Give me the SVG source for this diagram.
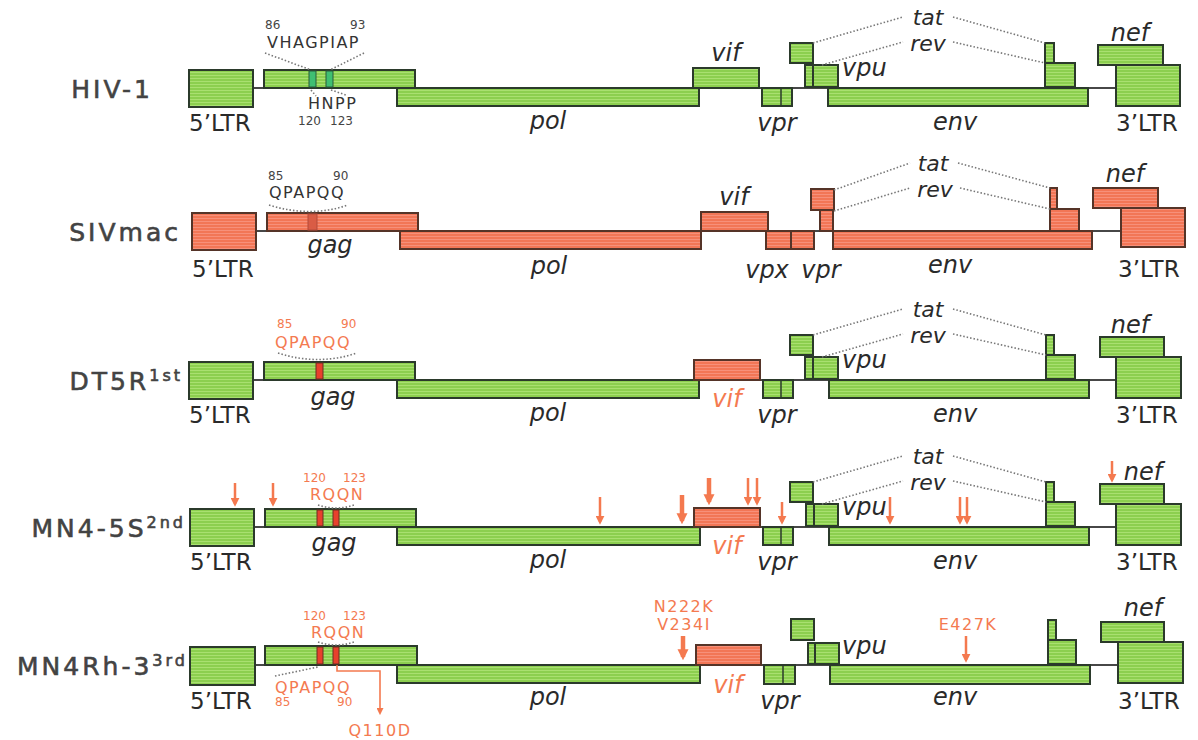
<svg xmlns="http://www.w3.org/2000/svg" width="1198" height="740" viewBox="0 0 1198 740">
<defs>
  <pattern id="pg" width="6" height="3" patternUnits="userSpaceOnUse">
    <rect width="6" height="3" fill="#8ccf4f"/>
    <rect y="2" width="6" height="1" fill="#a9e070"/>
  </pattern>
  <pattern id="pr" width="6" height="3" patternUnits="userSpaceOnUse">
    <rect width="6" height="3" fill="#f27656"/>
    <rect y="2" width="6" height="1" fill="#f7907a"/>
  </pattern>
  <marker id="ah" viewBox="0 0 10 10" refX="7" refY="5" markerWidth="9" markerHeight="9" orient="auto" markerUnits="userSpaceOnUse">
    <path d="M0,0 L10,5 L0,10 z" fill="#f4794f"/>
  </marker>
  <marker id="ahT" viewBox="0 0 10 10" refX="7" refY="5" markerWidth="11" markerHeight="12" orient="auto" markerUnits="userSpaceOnUse">
    <path d="M0,0 L10,5 L0,10 z" fill="#f4794f"/>
  </marker>
  <marker id="ahS" viewBox="0 0 10 10" refX="7" refY="5" markerWidth="7" markerHeight="7" orient="auto" markerUnits="userSpaceOnUse">
    <path d="M0,0 L10,5 L0,10 z" fill="#f4794f"/>
  </marker>
</defs>
<style>
  .g{fill:url(#pg);stroke:#2b3a2b;stroke-width:2}
  .r{fill:url(#pr);stroke:#553428;stroke-width:2}
  .bb{stroke:#474747;stroke-width:2}
  .dv{stroke:#2b3a2b;stroke-width:1.5}
  .stg{fill:#3fbf72;stroke:#2b5a3a;stroke-width:1}
  .str{fill:#e8402c;stroke:#6a2e22;stroke-width:1}
  .str2{fill:#d95c45;stroke:#b34a3a;stroke-width:1}
  .gl{font-family:"DejaVu Sans",Verdana,sans-serif;font-style:italic;font-size:24px;fill:#2a2a2a}
  .tr{font-size:22px}
  .ltr{font-family:"DejaVu Sans",Verdana,sans-serif;font-size:23px;fill:#2a2a2a}
  .rl{font-family:"DejaVu Sans",Verdana,sans-serif;font-size:25px;fill:#434343;stroke:#434343;stroke-width:0.6;letter-spacing:3px;text-anchor:end}
  .aa{font-family:"DejaVu Sans",Verdana,sans-serif;font-size:16px;fill:#333;letter-spacing:1.5px}
  .num{font-family:"DejaVu Sans",Verdana,sans-serif;font-size:12px;fill:#444}
  .o{fill:#f47a50}
  .c{text-anchor:middle}
  .dot{stroke:#777;stroke-width:1.6;stroke-dasharray:1.5 2;fill:none}
  .arr{stroke:#f4794f;stroke-width:2.5;marker-end:url(#ah)}
  .arrT{stroke:#f4794f;stroke-width:4.5;marker-end:url(#ahT)}
  .arrS{stroke:#f4794f;stroke-width:1.6;fill:none;marker-end:url(#ahS)}
</style>
<rect width="1198" height="740" fill="#ffffff"/>

<!-- Row labels -->
<g id="labels">
  <text class="rl" x="153" y="98">HIV-1</text>
  <text class="rl" x="181" y="241">SIVmac</text>
  <text class="rl" x="183" y="390">DT5R<tspan font-size="16" dy="-9">1st</tspan></text>
  <text class="rl" x="186" y="537">MN4-5S<tspan font-size="16" dy="-9">2nd</tspan></text>
  <text class="rl" x="188" y="675">MN4Rh-3<tspan font-size="16" dy="-9">3rd</tspan></text>
</g>

<!-- Row 1: HIV-1 -->
<g id="row-hiv1" transform="translate(0,88)">
  <line class="bb" x1="253" y1="0" x2="1116" y2="0"/>
  <g id="hiv1-5ltr"><rect class="g" x="189" y="-18" width="64" height="37"/></g>
  <g id="hiv1-gag"><rect class="g" x="264" y="-18" width="151" height="18"/>
    <rect class="stg" x="309" y="-17" width="7" height="16"/><rect class="stg" x="326" y="-17" width="7" height="16"/></g>
  <g id="hiv1-pol"><rect class="g" x="397" y="0" width="302" height="18"/></g>
  <g id="hiv1-vif"><rect class="g" x="693" y="-20" width="66" height="20"/></g>
  <g id="hiv1-vpr"><rect class="g" x="762" y="0" width="30" height="18"/><line class="dv" x1="781" y1="0" x2="781" y2="18"/></g>
  <g id="hiv1-tat1"><rect class="g" x="790" y="-45" width="23" height="20"/></g>
  <g id="hiv1-vpu"><rect class="g" x="805" y="-23" width="8" height="22"/><rect class="g" x="813" y="-23" width="25" height="22"/></g>
  <g id="hiv1-env"><rect class="g" x="828" y="0" width="260" height="18"/></g>
  <g id="hiv1-tat2"><rect class="g" x="1045" y="-45" width="9" height="20"/></g>
  <g id="hiv1-rev2"><rect class="g" x="1045" y="-25" width="30" height="24"/></g>
  <g id="hiv1-nef"><rect class="g" x="1098" y="-43" width="65" height="20"/></g>
  <g id="hiv1-3ltr"><rect class="g" x="1116" y="-23" width="64" height="41"/></g>
  <text class="gl c" x="726" y="-27">vif</text>
  <text class="gl tr c" x="928" y="-63">tat</text>
  <text class="gl tr c" x="928" y="-37">rev</text>
  <text class="gl" x="842" y="-12">vpu</text>
  <text class="gl c" x="1130" y="-47">nef</text>
  <text class="ltr" x="189" y="43">5’LTR</text>
  <text class="gl c" x="548" y="41">pol</text>
  <text class="gl c" x="777" y="43">vpr</text>
  <text class="gl c" x="955" y="42">env</text>
  <text class="ltr" x="1116" y="43">3’LTR</text>
  <text class="num" x="265" y="-59">86</text>
  <text class="num" x="350" y="-59">93</text>
  <text class="aa" x="267" y="-40">VHAGPIAP</text>
  <text class="aa" x="308" y="21">HNPP</text>
  <text class="num" x="298" y="37">120</text>
  <text class="num" x="330" y="37">123</text>
</g>

<!-- Row 2: SIVmac -->
<g id="row-sivmac">
  <line class="bb" x1="256" y1="231" x2="1121" y2="231"/>
  <g id="siv-5ltr"><rect class="r" x="192" y="213" width="64" height="37"/></g>
  <g id="siv-gag"><rect class="r" x="267" y="213" width="151" height="18"/><rect class="str2" x="308" y="214" width="9" height="16"/></g>
  <g id="siv-pol"><rect class="r" x="400" y="231" width="301" height="18"/></g>
  <g id="siv-vif"><rect class="r" x="701" y="212" width="67" height="19"/></g>
  <g id="siv-vpx"><rect class="r" x="766" y="231" width="25" height="18"/></g>
  <g id="siv-vpr"><rect class="r" x="791" y="231" width="23" height="18"/></g>
  <g id="siv-tat1"><rect class="r" x="811" y="189" width="23" height="21"/></g>
  <g id="siv-rev1"><rect class="r" x="820" y="210" width="13" height="21"/></g>
  <g id="siv-env"><rect class="r" x="833" y="231" width="259" height="18"/></g>
  <g id="siv-tat2"><rect class="r" x="1050" y="188" width="7" height="21"/></g>
  <g id="siv-rev2"><rect class="r" x="1050" y="209" width="29" height="22"/></g>
  <g id="siv-nef"><rect class="r" x="1093" y="188" width="65" height="20"/></g>
  <g id="siv-3ltr"><rect class="r" x="1121" y="208" width="64" height="39"/></g>
  <text class="gl c" x="734" y="205">vif</text>
  <text class="gl tr c" x="933" y="171">tat</text>
  <text class="gl tr c" x="935" y="197">rev</text>
  <text class="gl c" x="1125" y="182">nef</text>
  <text class="gl c" x="330" y="253">gag</text>
  <text class="ltr" x="192" y="277">5’LTR</text>
  <text class="gl c" x="549" y="274">pol</text>
  <text class="gl c" x="767" y="278">vpx</text>
  <text class="gl c" x="821" y="278">vpr</text>
  <text class="gl c" x="950" y="273">env</text>
  <text class="ltr" x="1118" y="277">3’LTR</text>
  <text class="num" x="268" y="180">85</text>
  <text class="num" x="333" y="180">90</text>
  <text class="aa" x="269" y="198">QPAPQQ</text>
</g>

<!-- Row 3: DT5R 1st -->
<g id="row-dt5r" transform="translate(0,380)">
  <line class="bb" x1="253" y1="0" x2="1116" y2="0"/>
  <g id="dt5r-5ltr"><rect class="g" x="189" y="-18" width="64" height="37"/></g>
  <g id="dt5r-gag"><rect class="g" x="264" y="-18" width="151" height="18"/><rect class="str" x="316" y="-17" width="7" height="16"/></g>
  <g id="dt5r-pol"><rect class="g" x="397" y="0" width="302" height="18"/></g>
  <g id="dt5r-vif"><rect class="r" x="694" y="-20" width="66" height="20"/></g>
  <g id="dt5r-vpr"><rect class="g" x="763" y="0" width="30" height="18"/><line class="dv" x1="781" y1="0" x2="781" y2="18"/></g>
  <g id="dt5r-tat1"><rect class="g" x="790" y="-45" width="23" height="20"/></g>
  <g id="dt5r-vpu"><rect class="g" x="805" y="-23" width="8" height="22"/><rect class="g" x="813" y="-23" width="25" height="22"/></g>
  <g id="dt5r-env"><rect class="g" x="829" y="0" width="260" height="18"/></g>
  <g id="dt5r-tat2"><rect class="g" x="1046" y="-45" width="8" height="20"/></g>
  <g id="dt5r-rev2"><rect class="g" x="1046" y="-25" width="29" height="24"/></g>
  <g id="dt5r-nef"><rect class="g" x="1100" y="-43" width="64" height="20"/></g>
  <g id="dt5r-3ltr"><rect class="g" x="1116" y="-23" width="65" height="41"/></g>
  <text class="gl tr c" x="928" y="-63">tat</text>
  <text class="gl tr c" x="928" y="-37">rev</text>
  <text class="gl" x="842" y="-12">vpu</text>
  <text class="gl c" x="1130" y="-47">nef</text>
  <text class="gl c" x="333" y="25">gag</text>
  <text class="gl c o" x="727" y="27">vif</text>
  <text class="ltr" x="189" y="43">5’LTR</text>
  <text class="gl c" x="548" y="41">pol</text>
  <text class="gl c" x="777" y="43">vpr</text>
  <text class="gl c" x="955" y="42">env</text>
  <text class="ltr" x="1116" y="43">3’LTR</text>
  <text class="num o" x="277" y="-52">85</text>
  <text class="num o" x="341" y="-52">90</text>
  <text class="aa o" x="275" y="-32">QPAPQQ</text>
</g>

<!-- Row 4: MN4-5S 2nd -->
<g id="row-mn45s" transform="translate(0,527)">
  <line class="bb" x1="254" y1="0" x2="1116" y2="0"/>
  <g id="mn45s-5ltr"><rect class="g" x="190" y="-18" width="64" height="37"/></g>
  <g id="mn45s-gag"><rect class="g" x="265" y="-18" width="151" height="18"/>
    <rect class="str" x="317" y="-17" width="6" height="16"/><rect class="str" x="333" y="-17" width="6" height="16"/></g>
  <g id="mn45s-pol"><rect class="g" x="397" y="0" width="303" height="18"/></g>
  <g id="mn45s-vif"><rect class="r" x="694" y="-19" width="66" height="19"/></g>
  <g id="mn45s-vpr"><rect class="g" x="763" y="0" width="30" height="18"/><line class="dv" x1="781" y1="0" x2="781" y2="18"/></g>
  <g id="mn45s-tat1"><rect class="g" x="790" y="-45" width="23" height="20"/></g>
  <g id="mn45s-vpu"><rect class="g" x="806" y="-23" width="8" height="22"/><rect class="g" x="814" y="-23" width="24" height="22"/></g>
  <g id="mn45s-env"><rect class="g" x="829" y="0" width="260" height="18"/></g>
  <g id="mn45s-tat2"><rect class="g" x="1046" y="-45" width="8" height="20"/></g>
  <g id="mn45s-rev2"><rect class="g" x="1046" y="-25" width="29" height="24"/></g>
  <g id="mn45s-nef"><rect class="g" x="1100" y="-43" width="64" height="20"/></g>
  <g id="mn45s-3ltr"><rect class="g" x="1116" y="-23" width="65" height="41"/></g>
  <text class="gl tr c" x="928" y="-63">tat</text>
  <text class="gl tr c" x="928" y="-37">rev</text>
  <text class="gl" x="842" y="-12">vpu</text>
  <text class="gl c" x="1143" y="-47">nef</text>
  <text class="gl c" x="334" y="24">gag</text>
  <text class="gl c o" x="727" y="27">vif</text>
  <text class="ltr" x="190" y="43">5’LTR</text>
  <text class="gl c" x="548" y="41">pol</text>
  <text class="gl c" x="777" y="43">vpr</text>
  <text class="gl c" x="955" y="42">env</text>
  <text class="ltr" x="1116" y="43">3’LTR</text>
  <text class="num o" x="303" y="-45">120</text>
  <text class="num o" x="343" y="-45">123</text>
  <text class="aa o" x="310" y="-27">RQQN</text>
</g>

<!-- Row 5: MN4Rh-3 3rd -->
<g id="row-mn4rh3" transform="translate(0,665)">
  <line class="bb" x1="255" y1="0" x2="1118" y2="0"/>
  <g id="mn4rh-5ltr"><rect class="g" x="190" y="-18" width="65" height="38"/></g>
  <g id="mn4rh-gag"><rect class="g" x="265" y="-19" width="152" height="19"/>
    <rect class="str" x="317" y="-18" width="6" height="17"/><rect class="str" x="333" y="-18" width="6" height="17"/></g>
  <g id="mn4rh-pol"><rect class="g" x="397" y="0" width="303" height="18"/></g>
  <g id="mn4rh-vif"><rect class="r" x="696" y="-20" width="65" height="20"/></g>
  <g id="mn4rh-vpr"><rect class="g" x="764" y="0" width="31" height="19"/><line class="dv" x1="783" y1="0" x2="783" y2="19"/></g>
  <g id="mn4rh-tat1"><rect class="g" x="791" y="-46" width="23" height="21"/></g>
  <g id="mn4rh-vpu"><rect class="g" x="808" y="-22" width="7" height="21"/><rect class="g" x="815" y="-22" width="24" height="21"/></g>
  <g id="mn4rh-env"><rect class="g" x="830" y="0" width="260" height="19"/></g>
  <g id="mn4rh-tat2"><rect class="g" x="1048" y="-45" width="8" height="20"/></g>
  <g id="mn4rh-rev2"><rect class="g" x="1048" y="-25" width="28" height="24"/></g>
  <g id="mn4rh-nef"><rect class="g" x="1101" y="-43" width="63" height="20"/></g>
  <g id="mn4rh-3ltr"><rect class="g" x="1118" y="-23" width="65" height="41"/></g>
  <text class="gl" x="842" y="-11">vpu</text>
  <text class="gl c" x="1143" y="-49">nef</text>
  <text class="gl c o" x="728" y="28">vif</text>
  <text class="ltr" x="190" y="44">5’LTR</text>
  <text class="gl c" x="548" y="40">pol</text>
  <text class="gl c" x="780" y="44">vpr</text>
  <text class="gl c" x="955" y="40">env</text>
  <text class="ltr" x="1118" y="44">3’LTR</text>
  <text class="num o" x="303" y="-45">120</text>
  <text class="num o" x="343" y="-45">123</text>
  <text class="aa o" x="311" y="-27">RQQN</text>
  <text class="aa o" x="275" y="28">QPAPQQ</text>
  <text class="num o" x="275" y="41">85</text>
  <text class="num o" x="337" y="41">90</text>
  <text class="aa o c" x="380" y="71">Q110D</text>
  <text class="aa o c" x="684" y="-53">N222K</text>
  <text class="aa o c" x="684" y="-35">V234I</text>
  <text class="aa o c" x="968" y="-35">E427K</text>
</g>

<!-- Connectors: dotted guides and mutation arrows -->
<g id="connectors">
  <!-- row 1 -->
  <g transform="translate(0,88)">
    <line class="dot" x1="813" y1="-45" x2="903" y2="-71"/>
    <line class="dot" x1="953" y1="-71" x2="1045" y2="-45"/>
    <line class="dot" x1="822" y1="-23" x2="903" y2="-46"/>
    <line class="dot" x1="953" y1="-46" x2="1045" y2="-25"/>
    <line class="dot" x1="265" y1="-35" x2="311" y2="-18"/>
    <line class="dot" x1="364" y1="-35" x2="330" y2="-18"/>
    <line class="dot" x1="311" y1="2" x2="316" y2="8"/>
    <line class="dot" x1="331" y1="2" x2="346" y2="7"/>
  </g>
  <!-- row 2 -->
  <line class="dot" x1="834" y1="190" x2="910" y2="163"/>
  <line class="dot" x1="958" y1="163" x2="1050" y2="188"/>
  <line class="dot" x1="834" y1="211" x2="910" y2="188"/>
  <line class="dot" x1="960" y1="188" x2="1050" y2="209"/>
  <path class="dot" d="M 269 205 Q 310 218 348 205"/>
  <!-- row 3 -->
  <g transform="translate(0,380)">
    <line class="dot" x1="813" y1="-45" x2="903" y2="-71"/>
    <line class="dot" x1="953" y1="-71" x2="1046" y2="-45"/>
    <line class="dot" x1="822" y1="-23" x2="903" y2="-46"/>
    <line class="dot" x1="953" y1="-46" x2="1046" y2="-25"/>
    <path class="dot" d="M 278 -27 Q 318 -14 357 -27"/>
  </g>
  <!-- row 4 -->
  <g transform="translate(0,527)">
    <line class="dot" x1="813" y1="-45" x2="903" y2="-71"/>
    <line class="dot" x1="953" y1="-71" x2="1046" y2="-45"/>
    <line class="dot" x1="822" y1="-23" x2="903" y2="-46"/>
    <line class="dot" x1="953" y1="-46" x2="1046" y2="-25"/>
    <path class="dot" d="M 318 -22 Q 336 -16 354 -22"/>
  </g>
  <line class="arr" x1="235" y1="483" x2="235" y2="504"/>
  <line class="arr" x1="273" y1="483" x2="273" y2="504"/>
  <line class="arr" x1="600" y1="497" x2="600" y2="522"/>
  <line class="arrT" x1="682" y1="495" x2="682" y2="521"/>
  <line class="arrT" x1="709" y1="478" x2="709" y2="502"/>
  <line class="arr" x1="748" y1="478" x2="748" y2="503"/>
  <line class="arr" x1="757" y1="478" x2="757" y2="503"/>
  <line class="arr" x1="782" y1="502" x2="782" y2="522"/>
  <line class="arr" x1="890" y1="497" x2="890" y2="522"/>
  <line class="arr" x1="960" y1="497" x2="960" y2="522"/>
  <line class="arr" x1="967" y1="497" x2="967" y2="522"/>
  <line class="arr" x1="1112" y1="461" x2="1112" y2="480"/>
  <!-- row 5 -->
  <g transform="translate(0,665)">
    <path class="dot" d="M 318 -23 Q 336 -17 354 -23"/>
    <line class="dot" x1="275" y1="11" x2="318" y2="2"/>
    <path class="arrS" d="M 337 0 V 6 H 380 V 48"/>
  </g>
  <line class="arrT" x1="683" y1="636" x2="683" y2="657"/>
  <line class="arr" x1="966" y1="636" x2="966" y2="660"/>
</g>
</svg>
